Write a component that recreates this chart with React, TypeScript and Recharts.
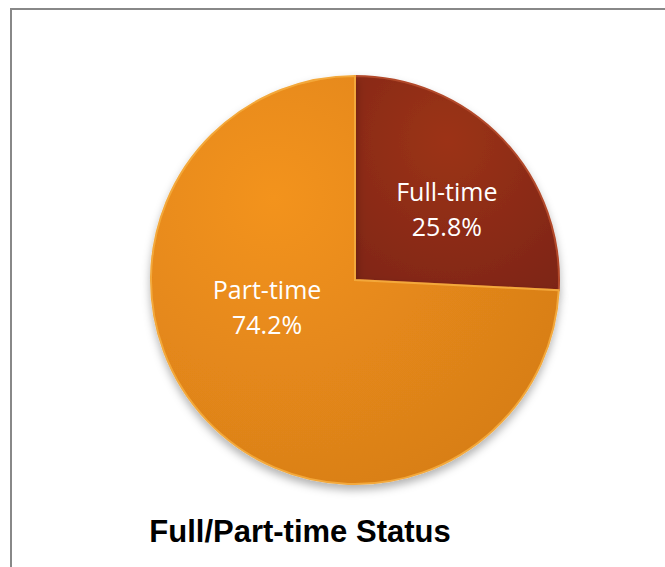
import React from "react";
import { PieChart, Pie, Cell } from "recharts";

const categories = ["Full-time", "Part-time"];
const values = [25.8, 74.2];
const title = "Full/Part-time Status";

const data = categories.map((name, i) => ({ name, value: values[i] }));
const fills = ["url(#gradFull)", "url(#gradPart)"];
const strokes = ["#b24a2c", "#f3a83a"];

const renderLabel = (props: any) => {
  const { cx, cy, outerRadius, index, name, value } = props;
  let x: number, y: number;
  if (index === 0) {
    x = cx + outerRadius * 0.45;
    y = cy - outerRadius * 0.358;
  } else {
    x = cx - outerRadius * 0.431;
    y = cy + outerRadius * 0.123;
  }
  return (
    <text
      x={x}
      y={y}
      fill="#ffffff"
      textAnchor="middle"
      fontFamily="'Open Sans', sans-serif"
      fontSize={25}
    >
      <tspan x={x} dy={-6}>{name}</tspan>
      <tspan x={x} dy={35}>{value.toFixed(1)}%</tspan>
    </text>
  );
};

export default function App() {
  return (
    <div style={{ position: "absolute", left: 0, top: 0, width: 665, height: 567, background: "#fff", overflow: "hidden" }}>
      <div
        style={{
          position: "absolute",
          left: 10,
          top: 8,
          width: 700,
          height: 600,
          borderLeft: "2px solid #888888",
          borderTop: "2px solid #888888",
        }}
      />
      <svg width={0} height={0} style={{ position: "absolute" }}>
        <defs>
          <radialGradient id="gradFull" cx="0.45" cy="0.3" r="0.9">
            <stop offset="0%" stopColor="#9c3319" />
            <stop offset="100%" stopColor="#7c2412" />
          </radialGradient>
          <radialGradient id="gradPart" cx="0.3" cy="0.3" r="0.85">
            <stop offset="0%" stopColor="#f3931c" />
            <stop offset="100%" stopColor="#d67d18" />
          </radialGradient>
          <filter id="pieShadow" x="-20%" y="-20%" width="140%" height="140%">
            <feDropShadow dx="0" dy="5" stdDeviation="4" floodColor="#000" floodOpacity="0.3" />
          </filter>
        </defs>
      </svg>
      <div style={{ position: "absolute", left: 0, top: 0 }}>
        <PieChart width={665} height={567}>
          <Pie
            data={data}
            dataKey="value"
            nameKey="name"
            cx={350}
            cy={275}
            outerRadius={204}
            startAngle={90}
            endAngle={-270}
            isAnimationActive={false}
            label={renderLabel}
            labelLine={false}
            stroke="none"
            style={{ filter: "url(#pieShadow)" }}
          >
            {data.map((d, i) => (
              <Cell key={d.name} fill={fills[i]} stroke={strokes[i]} strokeWidth={2} />
            ))}
          </Pie>
        </PieChart>
      </div>
      <div
        style={{
          position: "absolute",
          left: 0,
          width: 600,
          top: 512,
          textAlign: "center",
          fontFamily: "'Liberation Sans', Arial, sans-serif",
          fontWeight: "bold",
          fontSize: 31,
          color: "#000",
          lineHeight: "40px",
        }}
      >
        {title}
      </div>
    </div>
  );
}
